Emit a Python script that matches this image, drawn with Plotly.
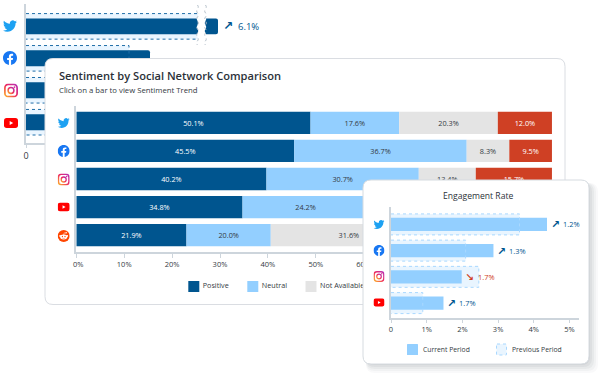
import base64
import numpy as np
import plotly.graph_objects as go

# ---------- data ----------
networks_back = ["Twitter", "Facebook", "Instagram", "YouTube"]
back_current = [9.6, 6.2, 4.0, 3.0]
back_previous = [8.7, 5.15, 4.5, 2.6]

networks_mid = ["Twitter", "Facebook", "Instagram", "YouTube", "Reddit"]
positive = [48.9, 45.5, 39.7, 34.7, 23.0]
neutral = [18.5, 36.0, 31.8, 26.3, 17.6]
not_available = [20.6, 8.9, 11.9, 19.0, 32.6]
negative = [11.3, 8.9, 15.9, 19.3, 26.1]
positive_labels = ["50.1%", "45.5%", "40.2%", "34.8%", "21.9%"]
neutral_labels = ["17.6%", "36.7%", "30.7%", "24.2%", "20.0%"]
not_available_labels = ["20.3%", "8.3%", "13.4%", "19.3%", "31.6%"]
negative_labels = ["12.0%", "9.5%", "15.7%", "21.7%", "26.5%"]
mid_ticks = [0, 10, 20, 30, 40, 50, 60, 70, 80, 90, 100]
mid_ticktext = ["\u00a0\u00a00%", "10%", "20%", "30%", "40%", "50%", "60%", "70%", "80%", "90%", "100%"]

networks_front = ["Twitter", "Facebook", "Instagram", "YouTube"]
engagement_current = [4.37, 2.87, 1.98, 1.47]
engagement_previous = [3.6, 2.09, 2.46, 0.89]
engagement_labels = ["1.2%", "1.3%", "1.7%", "1.7%"]
engagement_up = [True, True, False, True]
front_ticks = [0, 1, 2, 3, 4, 5]
front_ticktext = ["0", "1%", "2%", "3%", "4%", "5%"]

# ---------- style ----------
FONT = "Open Sans"
DARK = "#00558f"
LIGHT = "#93cfff"
GREY = "#e4e4e4"
RED = "#cf4024"
TEXT = "#333a42"
W, H = 600, 377


def xdom(a, b):
    return [a / W, b / W]


def ydom(a, b):
    return [1 - b / H, 1 - a / H]


def svg_uri(body):
    svg = f'<svg xmlns="http://www.w3.org/2000/svg" viewBox="0 0 24 24">{body}</svg>'
    return "data:image/svg+xml;base64," + base64.b64encode(svg.encode()).decode()


ICONS = {
    "Twitter": svg_uri('<path fill="#1da1f2" d="M23.953 4.57a10 10 0 01-2.825.775 4.958 4.958 0 002.163-2.723c-.951.555-2.005.959-3.127 1.184a4.92 4.92 0 00-8.384 4.482C7.69 8.095 4.067 6.13 1.64 3.162a4.822 4.822 0 00-.666 2.475c0 1.71.87 3.213 2.188 4.096a4.904 4.904 0 01-2.228-.616v.06a4.923 4.923 0 003.946 4.827 4.996 4.996 0 01-2.212.085 4.936 4.936 0 004.604 3.417 9.867 9.867 0 01-6.102 2.105c-.39 0-.779-.023-1.17-.067a13.995 13.995 0 007.557 2.209c9.053 0 13.998-7.496 13.998-13.985 0-.21 0-.42-.015-.63A9.935 9.935 0 0024 4.59z"/>'),
    "Facebook": svg_uri('<path fill="#1877f2" d="M24 12.073c0-6.627-5.373-12-12-12s-12 5.373-12 12c0 5.99 4.388 10.954 10.125 11.854v-8.385H7.078v-3.47h3.047V9.43c0-3.007 1.792-4.669 4.533-4.669 1.312 0 2.686.235 2.686.235v2.953H15.83c-1.491 0-1.956.925-1.956 1.874v2.25h3.328l-.532 3.47h-2.796v8.385C19.612 23.027 24 18.062 24 12.073z"/>'),
    "Instagram": svg_uri('<defs><linearGradient id="g" x1="0" y1="1" x2="1" y2="0"><stop offset="0" stop-color="#fdb32b"/><stop offset=".5" stop-color="#ee2a5f"/><stop offset="1" stop-color="#b52fb8"/></linearGradient></defs><rect x="1.5" y="1.5" width="21" height="21" rx="6" fill="none" stroke="url(#g)" stroke-width="3"/><circle cx="12" cy="12" r="5" fill="none" stroke="url(#g)" stroke-width="2.6"/><circle cx="18" cy="6" r="1.5" fill="#d12f8c"/>'),
    "YouTube": svg_uri('<rect x="0" y="3.5" width="24" height="17" rx="4.5" fill="#f00"/><path fill="#fff" d="M9.7 8.5v7l6-3.5z"/>'),
    "Reddit": svg_uri('<circle cx="12" cy="12" r="12" fill="#ff4500"/><ellipse cx="12" cy="14" rx="7.2" ry="4.8" fill="#fff"/><circle cx="4.8" cy="11.8" r="1.7" fill="#fff"/><circle cx="19.2" cy="11.8" r="1.7" fill="#fff"/><circle cx="17" cy="5.6" r="1.5" fill="#fff"/><path d="M12 10l1-4.4 3.6.8" stroke="#fff" stroke-width=".9" fill="none"/><circle cx="9.4" cy="13" r="1.3" fill="#ff4500"/><circle cx="14.6" cy="13" r="1.3" fill="#ff4500"/><path d="M9 16c1.6 1.2 4.4 1.2 6 0" stroke="#ff4500" stroke-width=".9" fill="none"/>'),
}


def rrect(x0, y0, x1, y1, r):
    return (f"M{x0+r},{y0} L{x1-r},{y0} Q{x1},{y0} {x1},{y0+r} L{x1},{y1-r} Q{x1},{y1} {x1-r},{y1} "
            f"L{x0+r},{y1} Q{x0},{y1} {x0},{y1-r} L{x0},{y0+r} Q{x0},{y0} {x0+r},{y0} Z")


def wavy(x, y0, y1, back=False, amp=1.6, step=4.0):
    ys = np.arange(y0, y1 + 0.01, step)
    if back:
        ys = ys[::-1]
    parts = []
    sign = 1
    for a, b in zip(ys[:-1], ys[1:]):
        parts.append(f"Q{x + sign * amp},{(a + b) / 2} {x},{b}")
        sign = -sign
    return ys, " ".join(parts)


def outline(values, half):
    xs, ys = [], []
    for i, v in enumerate(values):
        xs += [0, v, v, 0, None]
        ys += [i - half, i - half, i + half, i + half, None]
    return xs, ys


fig = go.Figure()
shapes, images, annotations = [], [], []


def add_icon(name, cx, cy, size, ref):
    images.append(dict(source=ICONS[name], xref="x" + ref, yref="y" + ref, x=cx, y=cy, sizex=size, sizey=size,
                       xanchor="center", yanchor="middle", layer="below", sizing="contain"))


def txt(s, x, y, size, ref, color=TEXT, anchor="left", weight=None, family=FONT):
    annotations.append(dict(text=s, x=x, y=y, xref="x" + ref, yref="y" + ref, xanchor=anchor, yanchor="middle",
                            showarrow=False, font=dict(family=family, size=size, color=color, weight=weight)))


layout_axes = {}


def canvas(n):
    s = "" if n == 1 else str(n)
    layout_axes["xaxis" + s] = dict(domain=[0, 1], range=[0, W], visible=False, fixedrange=True, anchor="y" + s)
    layout_axes["yaxis" + s] = dict(domain=[0, 1], range=[H, 0], visible=False, fixedrange=True, anchor="x" + s)
    fig.add_trace(go.Scatter(x=[None], y=[None], xaxis="x" + s, yaxis="y" + s, showlegend=False, hoverinfo="skip"))


AXC = "#cdd5dc"

# ---------- layer 1: back icons ----------
canvas(1)
for name, cx, cy, sz in zip(networks_back, [10, 10, 11, 11], [26, 58, 90.5, 123], [14, 14, 14, 14]):
    add_icon(name, cx, cy, sz, "")

# ---------- layer 2: back chart ----------
layout_axes["xaxis2"] = dict(domain=xdom(26, 226), range=[0, 10], anchor="y2", showgrid=False, zeroline=False,
                             showline=True, linecolor=AXC, linewidth=1.5, tickvals=[0], ticktext=["0"], ticks="outside",
                             ticklen=3, tickcolor=AXC, tickfont=dict(family=FONT, size=9, color=TEXT), fixedrange=True)
layout_axes["yaxis2"] = dict(domain=ydom(4, 143), range=[3.65, -0.7], anchor="x2", showgrid=False, zeroline=False,
                             showline=True, linecolor=AXC, linewidth=1.5, showticklabels=False, ticks="", fixedrange=True)
idx_back = list(range(len(networks_back)))
fig.add_trace(go.Bar(y=idx_back, x=back_previous, orientation="h", width=0.8, marker=dict(color="#e9f5ff", line_width=0),
                     xaxis="x2", yaxis="y2", showlegend=False, customdata=networks_back))
ox, oy = outline(back_previous, 0.4)
fig.add_trace(go.Scatter(x=ox, y=oy, mode="lines", line=dict(color="#1f6ea8", width=1, dash="dot"), xaxis="x2", yaxis="y2",
                         showlegend=False, hoverinfo="skip"))
fig.add_trace(go.Bar(y=idx_back, x=back_current, orientation="h", width=0.5,
                     marker=dict(color=DARK, line_width=0, cornerradius=2),
                     xaxis="x2", yaxis="y2", showlegend=False, customdata=networks_back))

# ---------- axis break on the back chart ----------
_, w_left = wavy(197.5, 5, 45)
_, w_right_rev = wavy(205.5, 5, 45, back=True)
shapes.append(dict(type="path", xref="x", yref="y", layer="above", line_width=0, fillcolor="white",
                   path=f"M197.5,5 {w_left} L205.5,45 {w_right_rev} Z"))
for xv in (197.5, 205.5):
    _, w = wavy(xv, 5, 45)
    shapes.append(dict(type="path", xref="x", yref="y", layer="above", line=dict(color="#b5c0ca", width=1, dash="dot"),
                       path=f"M{xv},5 {w}"))
annotations.append(dict(text="<b>\u2197</b>", x=back_current[0], y=0, xref="x2", yref="y2", xshift=10, xanchor="center",
                        yanchor="middle", showarrow=False, font=dict(family="DejaVu Sans", size=12, color=DARK)))
annotations.append(dict(text="6.1%", x=back_current[0], y=0, xref="x2", yref="y2", xshift=18, xanchor="left",
                        yanchor="middle", showarrow=False, font=dict(family=FONT, size=9.5, color=DARK)))

# ---------- layer 3: middle card ----------
canvas(3)
shapes.append(dict(type="path", xref="x3", yref="y3", layer="below", path=rrect(45, 58.5, 565, 304.5, 8),
                   fillcolor="white", line=dict(color="#dadde2", width=1)))
for name, cy, sz in zip(networks_mid, [123, 151, 179.5, 207, 236], [12, 12, 12, 12, 12]):
    add_icon(name, 63.7, cy, sz, "3")
txt("Sentiment by Social Network Comparison", 56.5, 75.5, 11.1, "3", "#2b3138", weight=600)
txt("Click on a bar to view Sentiment Trend", 56.5, 90, 7.75, "3", TEXT)

# ---------- layer 4: middle chart ----------
layout_axes["xaxis4"] = dict(domain=xdom(76.3, 555.3), range=[0, 100], anchor="y4", showgrid=False, zeroline=False,
                             showline=True, linecolor=AXC, linewidth=2, tickvals=mid_ticks, ticktext=mid_ticktext,
                             ticks="outside", ticklen=4, tickcolor=AXC, tickfont=dict(family=FONT, size=7.5, color=TEXT),
                             fixedrange=True)
layout_axes["yaxis4"] = dict(domain=ydom(106, 252), range=[4.6, -0.6], anchor="x4", showgrid=False, zeroline=False,
                             showline=True, linecolor=AXC, linewidth=2, showticklabels=False, ticks="", fixedrange=True)
idx_mid = list(range(len(networks_mid)))
series = [
    ("Positive", positive, positive_labels, DARK, "white"),
    ("Neutral", neutral, neutral_labels, LIGHT, TEXT),
    ("Not Available", not_available, not_available_labels, GREY, TEXT),
    ("Negative", negative, negative_labels, RED, "white"),
]
cum = np.zeros(len(networks_mid))
for name, vals, labs, col, tcol in series:
    fig.add_trace(go.Bar(y=idx_mid, x=vals, base=cum.tolist(), orientation="h", width=0.797, name=name, text=labs,
                         textposition="inside", insidetextanchor="middle", textangle=0, constraintext="none",
                         textfont=dict(family=FONT, size=7.3, color=tcol), marker=dict(color=col, line_width=0),
                         xaxis="x4", yaxis="y4", showlegend=False, customdata=networks_mid))
    cum = cum + np.array(vals)
# legend of the middle chart (kept in a trace so the front card hides it)
mid_legend = ["Positive", "Neutral", "Not Available"]
mid_legend_colors = [DARK, LIGHT, GREY]
mid_legend_x = [193.8, 252.8, 311]
fig.add_trace(go.Scatter(x=mid_legend_x, y=[286.5] * 3, mode="markers", xaxis="x3", yaxis="y3", showlegend=False,
                         hoverinfo="skip", marker=dict(symbol="square", size=11, color=mid_legend_colors, line_width=0)))
fig.add_trace(go.Scatter(x=[v + 9 for v in mid_legend_x], y=[286.5] * 3, mode="text", text=mid_legend,
                         textposition="middle right", textfont=dict(family=FONT, size=7.2, color=TEXT),
                         xaxis="x3", yaxis="y3", showlegend=False, hoverinfo="skip"))

# ---------- layer 5: front card ----------
canvas(5)
for off, grow, alpha in [(7, 4, 0.03), (6, 3, 0.04), (5, 2, 0.05), (4, 1, 0.06), (3, 0, 0.08)]:
    shapes.append(dict(type="path", xref="x5", yref="y5", layer="below", line_width=0,
                       fillcolor=f"rgba(60,70,80,{alpha})",
                       path=rrect(363 + off - grow, 180 + off - grow, 589 + off + grow - 2, 364 + off + grow - 2, 9)))
shapes.append(dict(type="path", xref="x5", yref="y5", layer="below", path=rrect(363, 180, 589, 364, 8),
                   fillcolor="white", line=dict(color="#d6dbe0", width=1)))
for name, cy in zip(networks_front, [224.5, 250.5, 276.5, 302.5]):
    add_icon(name, 379, cy, 11, "5")
txt("Engagement Rate", 478, 196, 8.6, "5", "#2b3138", anchor="center", weight=500)
shapes.append(dict(type="path", xref="x5", yref="y5", layer="below", line_width=0, fillcolor=LIGHT,
                   path=rrect(407, 344, 418, 355, 0.5)))
shapes.append(dict(type="path", xref="x5", yref="y5", layer="below", fillcolor="#e9f5ff",
                   line=dict(color="#a9d8ff", width=1, dash="dot"), path=rrect(496.5, 344, 506.5, 355, 0.5)))
txt("Current Period", 421, 349.5, 6.8, "5", TEXT)
txt("Previous Period", 510.3, 349.5, 6.8, "5", TEXT)

# ---------- layer 6: front chart ----------
layout_axes["xaxis6"] = dict(domain=xdom(391, 578.7), range=[0, 5.258], anchor="y6", showgrid=False, zeroline=False,
                             showline=True, linecolor=AXC, linewidth=1.5, tickvals=front_ticks, ticktext=front_ticktext,
                             ticks="outside", ticklen=3, tickcolor=AXC, tickfont=dict(family=FONT, size=7.5, color=TEXT),
                             fixedrange=True)
layout_axes["yaxis6"] = dict(domain=ydom(206.7, 318.3), range=[3.58, -0.675], anchor="x6", showgrid=False, zeroline=False,
                             showline=True, linecolor=AXC, linewidth=1.5, showticklabels=False, ticks="", fixedrange=True)
idx_front = list(range(len(networks_front)))
fig.add_trace(go.Bar(y=idx_front, x=engagement_previous, orientation="h", width=0.8,
                     marker=dict(color="#e9f5ff", line_width=0), xaxis="x6", yaxis="y6", showlegend=False,
                     customdata=networks_front))
ox, oy = outline(engagement_previous, 0.4)
fig.add_trace(go.Scatter(x=ox, y=oy, mode="lines", line=dict(color="#a9d8ff", width=1, dash="dot"), xaxis="x6", yaxis="y6",
                         showlegend=False, hoverinfo="skip"))
fig.add_trace(go.Bar(y=idx_front, x=engagement_current, orientation="h", width=0.508,
                     marker=dict(color=LIGHT, line_width=0), xaxis="x6", yaxis="y6", showlegend=False,
                     customdata=networks_front))
for i, (v, lab, up) in enumerate(zip(engagement_current, engagement_labels, engagement_up)):
    col = DARK if up else RED
    annotations.append(dict(text="<b>" + ("\u2197" if up else "\u2198") + "</b>", x=v, y=i, xref="x6", yref="y6", xshift=8,
                            xanchor="center", yanchor="middle", showarrow=False,
                            font=dict(family="DejaVu Sans", size=10.5, color=col)))
    annotations.append(dict(text=lab, x=v, y=i, xref="x6", yref="y6", xshift=14, xanchor="left", yanchor="middle",
                            showarrow=False, font=dict(family=FONT, size=7.4, color=col)))

fig.update_layout(width=W, height=H, margin=dict(l=0, r=0, t=0, b=0, pad=0, autoexpand=False), barmode="overlay",
                  paper_bgcolor="white", plot_bgcolor="rgba(0,0,0,0)", showlegend=False, shapes=shapes, images=images,
                  annotations=annotations, font=dict(family=FONT), **layout_axes)
fig.write_html("out.html", config=dict(displayModeBar=False),
               post_script="document.body.style.margin='0';document.body.style.overflow='hidden';")
